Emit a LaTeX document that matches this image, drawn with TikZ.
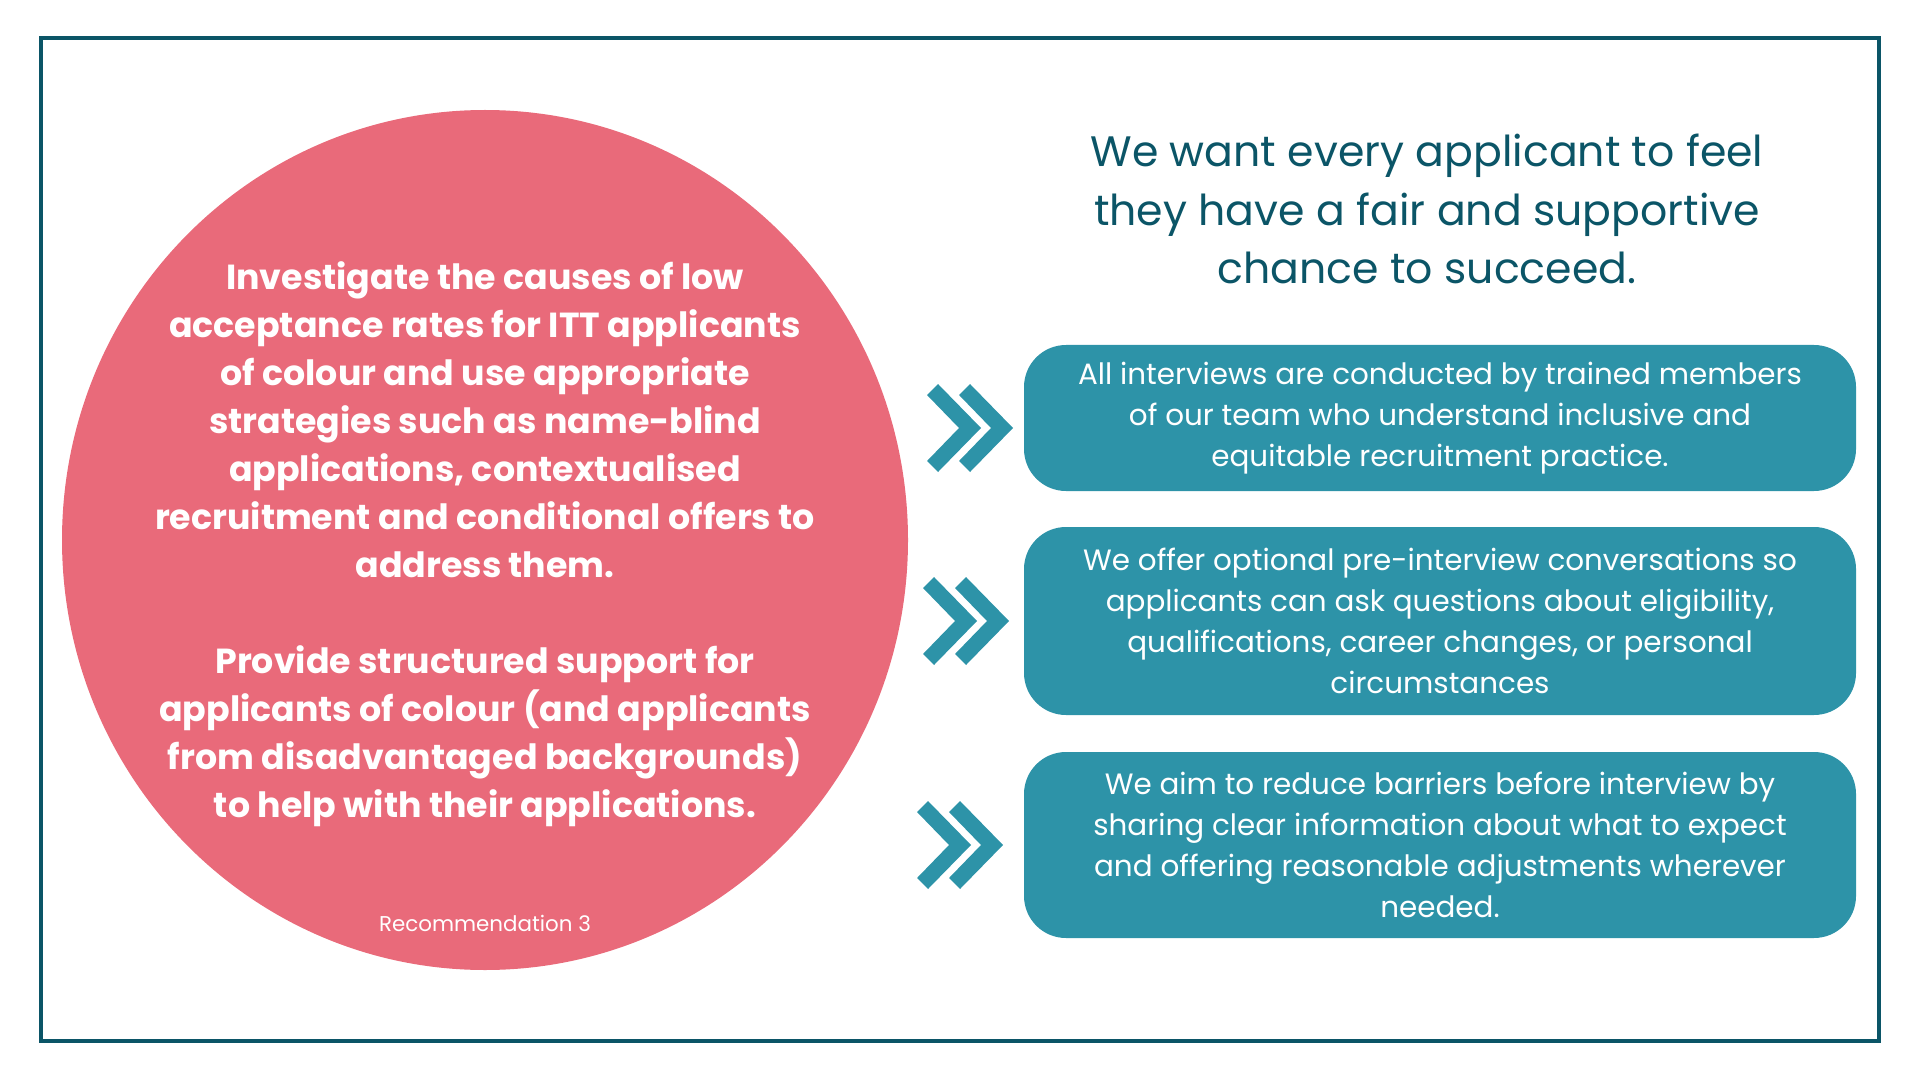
\documentclass[tikz,border=0pt]{standalone}
\usepackage{fontspec}
\setmainfont{Poppins}
\usetikzlibrary{shapes.geometric}
\definecolor{recpink}{HTML}{E96A7A}
\definecolor{boxteal}{HTML}{2D93A8}
\definecolor{darkteal}{HTML}{0B5567}
\begin{document}
\begin{tikzpicture}
					[x=0.5pt,y=-0.5pt,
					recblob/.style={ellipse,minimum width=423pt,minimum height=430pt,inner sep=0pt,fill=recpink},
					actbox/.style={rounded corners=21pt,minimum width=416pt,inner sep=0pt,fill=boxteal,text=white,align=center,font=\fontsize{14.7}{20.5}\selectfont},
					chev/.style={fill=boxteal}]
					\useasboundingbox (0,0) rectangle (1920,1080);
					\draw[darkteal,line width=2pt] (41,38) rectangle (1879,1041);
					\node[recblob] (blob) at (485,540) {};
					\node[text=white,align=center,font=\fontsize{17.4}{24}\selectfont\bfseries] (recs) at (485,544) {Investigate the causes of low\\acceptance rates for ITT applicants\\of colour and use appropriate\\strategies such as name-blind\\applications, contextualised\\recruitment and conditional offers to\\address them.\\[24pt]Provide structured support for\\applicants of colour (and applicants\\from disadvantaged backgrounds)\\to help with their applications.};
					\node[text=white,anchor=base,font=\fontsize{10.7}{13}\selectfont] (recno) at (485,931) {Recommendation 3};
					\node[text=darkteal,align=center,font=\fontsize{21.3}{29.25}\selectfont] (aim) at (1427,209) {We want every applicant to feel\\they have a fair and supportive\\chance to succeed.};
					\node[actbox,minimum height=73pt] (act1) at (1440,418) {All interviews are conducted by trained members\\of our team who understand inclusive and\\equitable recruitment practice.};
					\node[actbox,minimum height=94pt] (act2) at (1440,621) {We offer optional pre-interview conversations so\\applicants can ask questions about eligibility,\\qualifications, career changes, or personal\\circumstances};
					\node[actbox,minimum height=93pt] (act3) at (1440,845) {We aim to reduce barriers before interview by\\sharing clear information about what to expect\\and offering reasonable adjustments wherever\\needed.};
					\foreach \ax/\cy in {981/428,977/621,971/845}
						\foreach \dx in {0,32}
							\fill[chev] ({\ax+\dx},\cy) -- ++(-43,-44) -- ++(-11,11) -- ++(32,33) -- ++(-32,33) -- ++(11,11) -- cycle;
				\end{tikzpicture}
\end{document}
